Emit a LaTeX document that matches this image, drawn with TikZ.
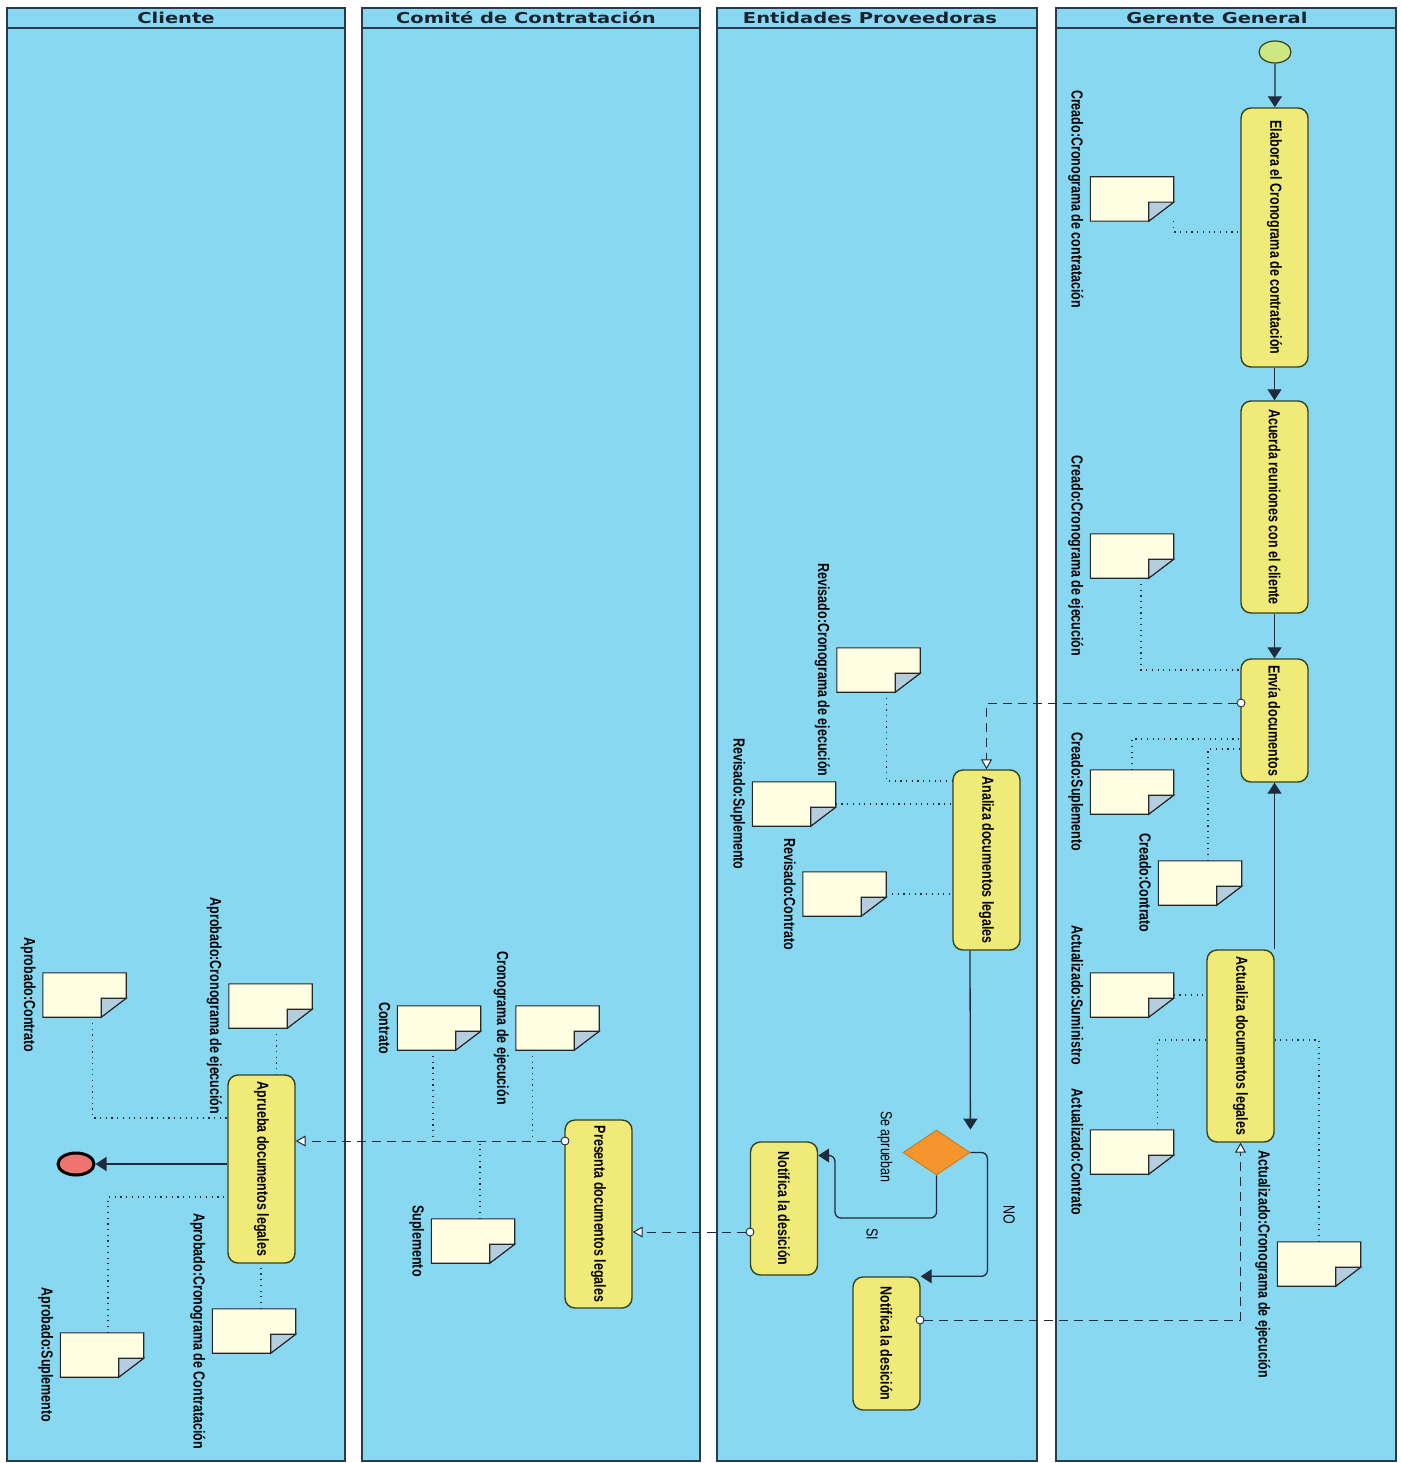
\documentclass[tikz,border=0pt]{standalone}
\usepackage{fontspec}
\setmainfont{Liberation Sans}
\newfontfamily\actfont[FakeStretch=0.78]{Liberation Sans}
\newfontfamily\headfont[FakeStretch=1.3]{DejaVu Sans}
\usepackage{graphicx}
\usetikzlibrary{arrows.meta, positioning, shapes.geometric, calc}
\definecolor{lanebg}{HTML}{88D8F2}
\definecolor{laneln}{HTML}{2B3B4B}
\definecolor{headtx}{HTML}{18222E}
\definecolor{actbg}{HTML}{F0EB78}
\definecolor{actln}{HTML}{34421E}
\definecolor{notebg}{HTML}{FFFDE2}
\definecolor{foldbg}{HTML}{B4CEE0}
\definecolor{flowc}{HTML}{1E2B3C}
\definecolor{decbg}{HTML}{F5952B}
\definecolor{endbg}{HTML}{EE7470}
\definecolor{startbg}{HTML}{CDE882}

\begin{document}
\begin{tikzpicture}[x=1pt, y=-1pt,
  lane/.style={draw=laneln, fill=lanebg, line width=1.2pt},
  lanehead/.style={font=\headfont\bfseries\fontsize{15}{17}\selectfont, text=headtx},
  act/.style={rectangle, rounded corners=10pt, draw=actln, fill=actbg,
              line width=1.4pt, minimum width=67pt, inner sep=0pt,
              font=\actfont\bfseries\fontsize{16}{18}\selectfont},
  docnote/.style={rectangle, minimum width=83pt, minimum height=44pt, inner sep=0pt},
  notebody/.style={draw=black!85, fill=notebg, line width=1.1pt},
  notefold/.style={draw=black!85, fill=foldbg, line width=1.1pt},
  lbl/.style={rotate=-90, anchor=north, inner sep=0pt, outer sep=7pt,
              font=\actfont\bfseries\fontsize{16}{18}\selectfont},
  cond/.style={rotate=-90, inner sep=0pt, font=\actfont\fontsize{16}{18}\selectfont},
  port/.style={circle, draw=flowc, fill=white, line width=0.9pt, inner sep=0pt, minimum size=8pt},
  arr/.style={-{Triangle[length=11pt, width=14pt]}, draw=flowc, line width=1.3pt},
  oarr/.style={-{Triangle[open, length=10pt, width=11pt, fill=white]}, draw=flowc,
               line width=1pt, dash pattern=on 9pt off 6pt},
  dotln/.style={draw=flowc, line width=1.1pt, dash pattern=on 1.2pt off 4.5pt}
]
\fill[white] (0,0) rectangle (1401,1463);
\useasboundingbox (0,0) rectangle (1401,1463);

\draw[lane] (7,8) rectangle (345,1461);
\draw[lane] (362,8) rectangle (700,1461);
\draw[lane] (717,8) rectangle (1037,1461);
\draw[lane] (1056,8) rectangle (1396,1461);
\draw[laneln, line width=1.2pt] (7,28) -- (345,28) (362,28) -- (700,28)
  (717,28) -- (1037,28) (1056,28) -- (1396,28);
\node[lanehead] (h1) at (176,18) {Cliente};
\node[lanehead] (h2) at (526,18) {Comité de Contratación};
\node[lanehead] (h3) at (870,18) {Entidades Proveedoras};
\node[lanehead] (h4) at (1217,18) {Gerente General};

\node[docnote] (gN1) at (1132,199) {};
\node[docnote] (gN2) at (1132,556) {};
\node[docnote] (gN3) at (1132,792) {};
\node[docnote] (gN4) at (1200,883) {};
\node[docnote] (gN5) at (1132,995) {};
\node[docnote] (gN6) at (1132,1152) {};
\node[docnote] (gN7) at (1319,1264) {};
\node[docnote] (eN1) at (878.5,670) {};
\node[docnote] (eN2) at (794,804) {};
\node[docnote] (eN3) at (844.5,894) {};
\node[docnote] (cN1) at (439,1028) {};
\node[docnote] (cN2) at (557.5,1028) {};
\node[docnote] (cN3) at (473,1241) {};
\node[docnote] (lN1) at (84.5,995) {};
\node[docnote] (lN2) at (270.5,1006) {};
\node[docnote] (lN3) at (254,1331) {};
\node[docnote] (lN4) at (102,1355) {};
\foreach \n in {gN1,gN2,gN3,gN4,gN5,gN6,gN7,eN1,eN2,eN3,cN1,cN2,cN3,lN1,lN2,lN3,lN4}{
  \filldraw[notebody] (\n.north west) -- (\n.north east) -- ([yshift=19pt]\n.south east)
    -- ([xshift=-25pt]\n.south east) -- (\n.south west) -- cycle;
  \filldraw[notefold] ([yshift=19pt]\n.south east) -- ([xshift=-25pt,yshift=19pt]\n.south east)
    -- ([xshift=-25pt]\n.south east) -- cycle;
}
\node[lbl] at (gN1.west) {Creado:Cronograma de contratación};
\node[lbl] at (gN2.west) {Creado:Cronograma de ejecución};
\node[lbl] at (gN3.west) {Creado:Suplemento};
\node[lbl] at (gN4.west) {Creado:Contrato};
\node[lbl] at (gN5.west) {Actualizado:Suministro};
\node[lbl] at (gN6.west) {Actualizado:Contrato};
\node[lbl] at (gN7.west) {Actualizado:Cronograma de ejecución};
\node[lbl] at (eN1.west) {Revisado:Cronograma de ejecución};
\node[lbl] at (eN2.west) {Revisado:Suplemento};
\node[lbl] at (eN3.west) {Revisado:Contrato};
\node[lbl] at (cN1.west) {Contrato};
\node[lbl] at (cN2.west) {Cronograma de ejecución};
\node[lbl] at (cN3.west) {Suplemento};
\node[lbl] at (lN1.west) {Aprobado:Contrato};
\node[lbl] at (lN2.west) {Aprobado:Cronograma de ejecución};
\node[lbl] at (lN3.west) {Aprobado:Cronograma de Contratación};
\node[lbl] at (lN4.west) {Aprobado:Suplemento};

\node[ellipse, draw=actln, fill=startbg, line width=1.2pt, minimum width=32pt, minimum height=22pt] (ini) at (1275,52) {};
\node[act, minimum height=259pt] (a1) at (1274.5,237.5) {\rotatebox{-90}{Elabora el Cronograma de contratación}};
\node[act, minimum height=212pt] (a2) at (1274.5,507) {\rotatebox{-90}{Acuerda reuniones con el cliente}};
\node[act, minimum height=123pt] (a3) at (1274.5,720.5) {\rotatebox{-90}{Envía documentos}};
\node[act, minimum height=192pt] (a4) at (1240.5,1046) {\rotatebox{-90}{Actualiza documentos legales}};
\node[act, minimum height=180pt] (an) at (986.5,860) {\rotatebox{-90}{Analiza documentos legales}};
\node[diamond, draw=decbg!80!black, fill=decbg, line width=0.8pt, inner sep=0pt,
      minimum width=67pt, minimum height=45pt] (dec) at (936.5,1152.5) {};
\node[act, minimum height=133pt] (nd1) at (784,1208.5) {\rotatebox{-90}{Notifica la desición}};
\node[act, minimum height=133pt] (nd2) at (886.5,1343.5) {\rotatebox{-90}{Notifica la desición}};
\node[act, minimum height=188pt] (pr) at (598.5,1214) {\rotatebox{-90}{Presenta documentos legales}};
\node[act, minimum height=188pt] (ap) at (261.5,1169) {\rotatebox{-90}{Aprueba documentos legales}};
\node[ellipse, draw=black, fill=endbg, line width=3pt, minimum width=36pt, minimum height=22pt] (fin) at (76,1164) {};
\node[cond] (qlbl) at (885,1147) {Se aprueban};
\node[cond] (silbl) at (872,1234) {SI};
\node[cond] (nolbl) at (1009,1215) {NO};

\node[port] (p3) at (1241,703) {};
\node[port] (p5) at (750,1232) {};
\node[port] (p6) at (565,1141) {};
\node[port] (p7) at (920,1320) {};

\draw[dotln] (gN1.south east) |- (a1.west |- 0,232);
\draw[dotln] ([xshift=9pt]gN2.south) |- (a3.west |- 0,670);
\draw[dotln] (gN3.north) |- (a3.west |- 0,739);
\draw[dotln] ([xshift=8pt]gN4.north) |- (a3.west |- 0,749);
\draw[dotln] (gN5.east) -- (a4.west |- gN5.east);
\draw[dotln] ([xshift=-16pt]gN6.north east) |- (a4.west |- 0,1040);
\draw[dotln] (gN7.north) |- (a4.east |- 0,1040);
\draw[dotln] ([xshift=8pt]eN1.south) |- (an.west |- 0,781);
\draw[dotln] (eN2.east) -- (an.west |- eN2.east);
\draw[dotln] (eN3.east) -- (an.west |- eN3.east);
\draw[dotln] ([xshift=-6pt]cN1.south) -- ([xshift=-6pt]cN1.south |- p6);
\draw[dotln] ([xshift=-25pt]cN2.south) -- ([xshift=-25pt]cN2.south |- p6);
\draw[dotln] ([xshift=7pt]cN3.north) -- ([xshift=7pt]cN3.north |- p6);
\draw[dotln] ([xshift=8pt]lN1.south) |- (ap.west |- 0,1118);
\draw[dotln] ([xshift=6pt]lN2.south) -- ([xshift=6pt]lN2.south |- ap.north);
\draw[dotln] ([xshift=7pt]lN3.north) -- ([xshift=7pt]lN3.north |- ap.south);
\draw[dotln] ([xshift=6pt]lN4.north) |- (ap.west |- 0,1197);

\draw[arr] (ini) -- (a1); \draw[arr] (a1) -- (a2);
\draw[arr] (a2) -- (a3); \draw[arr] (a3.south |- a4.north) -- (a3.south);
\draw[arr] ([xshift=-16.5pt]an.south) -- (dec.east |- dec.north);
\draw[arr, rounded corners=6pt] (dec.south) |- (835,1218) |- ([yshift=53pt]nd1.east);
\draw[arr, rounded corners=6pt] (dec.east) -- ++(17,0) |- (nd2.north east);
\draw[arr] (ap.west |- fin) -- (fin);

\draw[oarr] (p3) -| (an.north);
\draw[oarr] (p5) -- (pr.east |- p5);
\draw[oarr] (p6) -- (ap.east |- p6);
\draw[oarr] (p7) -| (a4.south);
\end{tikzpicture}
\end{document}
